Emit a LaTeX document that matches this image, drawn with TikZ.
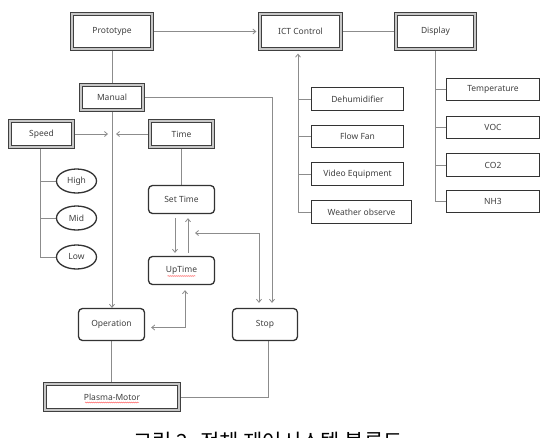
\documentclass[tikz,border=0pt]{standalone}
\usepackage{fontspec}
\setmainfont{Noto Sans}
\newfontfamily\cjk{Noto Sans CJK KR}
\usetikzlibrary{arrows.meta,shapes.geometric,backgrounds,decorations.pathmorphing}
\begin{document}
\begin{tikzpicture}[x=1pt,y=-1pt,
  lbl/.style={font=\fontsize{8.5}{10}\selectfont, text=black!75, inner sep=0pt},
  dbox/.style={lbl, draw=black!75, line width=1.2pt, double=black!22, double distance=1.5pt, fill=white},
  sbox/.style={lbl, draw=black!80, line width=1.3pt, fill=white},
  rbox/.style={lbl, draw=black!80, line width=1.3pt, rounded corners=4pt, fill=white},
  ell/.style={lbl, draw=black!80, line width=1.3pt, ellipse, fill=white, minimum width=40pt, minimum height=24pt},
  con/.style={draw=black!45, line width=0.8pt},
  arr/.style={con, -{Straight Barb[length=3pt,width=5pt]}},
  darr/.style={con, {Straight Barb[length=3pt,width=5pt]}-{Straight Barb[length=3pt,width=5pt]}},
  squig/.style={draw=red!70, line width=0.4pt, decorate, decoration={snake, amplitude=0.5pt, segment length=2pt}}
]
\useasboundingbox (0,0) rectangle (544,437);

% double-frame boxes
\node[dbox, minimum width=80pt, minimum height=35pt] (proto) at (112,31.5) {Prototype};
\node[dbox, minimum width=81pt, minimum height=35pt] (ict) at (300.5,31.5) {ICT Control};
\node[dbox, minimum width=79pt, minimum height=35pt] (disp) at (435.5,31.5) {Display};
\node[dbox, minimum width=62pt, minimum height=25pt] (manual) at (112,97.5) {Manual};
\node[dbox, minimum width=63pt, minimum height=26pt] (speed) at (41.5,134) {Speed};
\node[dbox, minimum width=63pt, minimum height=26pt] (time) at (181.5,134) {Time};
\node[dbox, minimum width=134pt, minimum height=26pt] (plasma) at (112,397) {Plasma-Motor};

% ellipses
\node[ell] (high) at (76.5,181) {High};
\node[ell] (mid) at (76.5,218) {Mid};
\node[ell] (low) at (76.5,257) {Low};

% rounded boxes
\node[rbox, minimum width=66pt, minimum height=28pt] (settime) at (181.5,199.5) {Set Time};
\node[rbox, minimum width=66pt, minimum height=28pt] (uptime) at (181.5,270.5) {UpTime};
\node[rbox, minimum width=66pt, minimum height=32pt] (oper) at (111.5,324.5) {Operation};
\node[rbox, minimum width=65pt, minimum height=32pt] (stop) at (265,324.5) {Stop};

% ICT control items
\node[sbox, minimum width=92pt, minimum height=23pt] (dehum) at (357.5,99) {Dehumidifier};
\node[sbox, minimum width=92pt, minimum height=22pt] (fan) at (357.5,136.5) {Flow Fan};
\node[sbox, minimum width=92pt, minimum height=23pt] (video) at (357.5,174) {Video Equipment};
\node[sbox, minimum width=100pt, minimum height=23pt] (weather) at (361.5,212) {Weather observe};

% display items
\node[sbox, minimum width=93pt, minimum height=22pt] (temp) at (493,89.5) {Temperature};
\node[sbox, minimum width=93pt, minimum height=22pt] (voc) at (493,127.5) {VOC};
\node[sbox, minimum width=93pt, minimum height=23pt] (co2) at (493,165) {CO2};
\node[sbox, minimum width=93pt, minimum height=22pt] (nh3) at (493,201.5) {NH3};

% spell-check marks under two labels
\draw[squig] ([xshift=-14pt,yshift=-5.5pt]uptime.center) -- ++(28pt,0);
\draw[squig] ([xshift=-27pt,yshift=-5.5pt]plasma.center) -- ++(54pt,0);

% free-end coordinates
\coordinate (ictx) at (298,0);
\coordinate (spa) at (108,134);
\coordinate (tia) at (116,134);
\coordinate (ua) at (195,233);

\begin{scope}[on background layer]
  \fill[white] (0,0) rectangle (544,437);
  \draw[arr, shorten >=3pt] (proto.east) -- (ict.west);
  \draw[con] (ict.east) -- (disp.west);
  \draw[con] (proto.south) -- (manual.north);
  \draw[arr] (manual.south) -- (manual.south |- oper.north);
  \draw[arr] (speed.east) -- (spa);
  \draw[arr] (time.west) -- (tia);
  \draw[con] (speed.south -| 40,0) |- (low.west);
  \draw[con] (40,0 |- high.west) -- (high.west);
  \draw[con] (40,0 |- mid.west) -- (mid.west);
  % display tree
  \draw[con] (disp.south) |- (nh3.west);
  \draw[con] (disp.south |- temp.west) -- (temp.west);
  \draw[con] (disp.south |- voc.west) -- (voc.west);
  \draw[con] (disp.south |- co2.west) -- (co2.west);
  % ICT tree
  \draw[arr, shorten >=4pt] (ictx |- weather.west) -- (ictx |- ict.south);
  \draw[con] (ictx |- weather.west) -- (weather.west);
  \draw[con] (ictx |- dehum.west) -- (dehum.west);
  \draw[con] (ictx |- fan.west) -- (fan.west);
  \draw[con] (ictx |- video.west) -- (video.west);
  % time chain
  \draw[con] (time.south) -- (settime.north);
  \draw[arr, shorten <=4pt, shorten >=3pt] ([xshift=-6.5pt]settime.south) -- ([xshift=-6.5pt]uptime.north);
  \draw[arr, shorten <=3pt, shorten >=4pt] ([xshift=6.5pt]uptime.north) -- ([xshift=6.5pt]settime.south);
  \draw[darr, shorten >=5pt] (ua) -| ([xshift=-6pt]stop.north);
  \draw[arr, shorten >=5pt] (manual.east) -| ([xshift=7pt]stop.north);
  \draw[darr, shorten <=6pt, shorten >=5pt] ([yshift=-3pt]oper.east) -| ([xshift=3.5pt]uptime.south);
  \draw[con] (oper.south) -- (oper.south |- plasma.north);
  \draw[con] ([xshift=3pt]stop.south) |- (plasma.east);
\end{scope}

% caption (cut by the page edge, as in the reference)
\node[anchor=base, inner sep=0pt, font=\cjk\fontsize{21}{24}\selectfont] (cap) at (268,449) {그림 2. 전체 제어시스템 블록도};
\end{tikzpicture}
\end{document}
